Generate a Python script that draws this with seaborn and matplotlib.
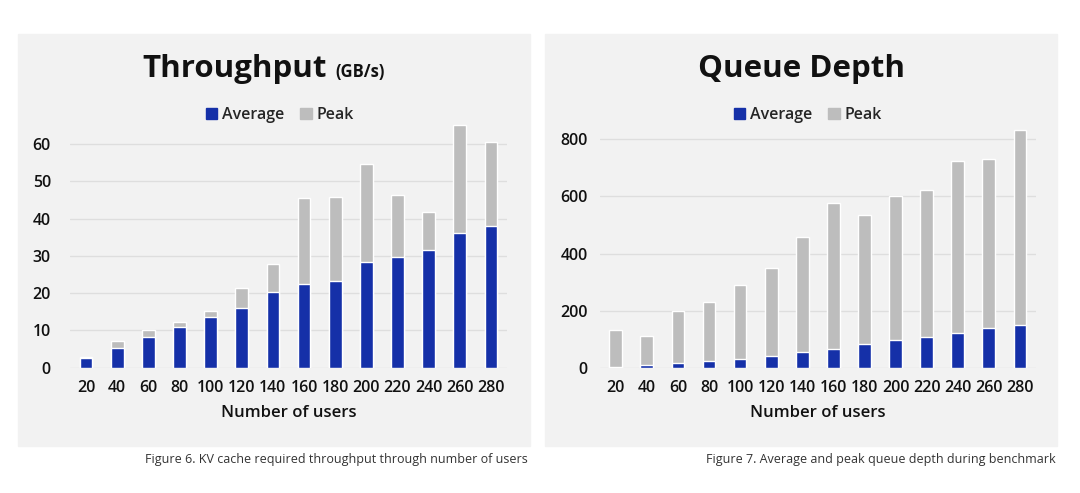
import numpy as np
import pandas as pd
import matplotlib
matplotlib.use("Agg")
import matplotlib.pyplot as plt
import seaborn as sns
from matplotlib.patches import Rectangle, Patch

# Dados
users = [20, 40, 60, 80, 100, 120, 140, 160, 180, 200, 220, 240, 260, 280]
thr_avg = [2.5, 5.4, 8.2, 10.9, 13.7, 16.0, 20.2, 22.4, 23.3, 28.4, 29.8, 31.5, 36.1, 37.9]
thr_peak = [3.0, 7.2, 10.0, 12.2, 15.1, 21.5, 27.9, 45.6, 45.9, 54.7, 46.2, 41.7, 65.0, 60.5]
qd_avg = [3, 8, 17, 23, 31, 41, 54, 67, 82, 96, 107, 123, 138, 150]
qd_peak = [131, 110, 200, 230, 288, 350, 458, 577, 536, 600, 624, 725, 730, 832]

BLUE = "#1530a8"
GRAY = "#bdbdbd"
PANEL = "#f2f2f2"

sns.set_theme(style="white")
plt.rcParams['font.family'] = ['Open Sans', 'DejaVu Sans']

fig = plt.figure(figsize=(10.8, 4.93), dpi=100)
W, H = 1080, 493

def px(x0, y0, x1, y1):
    # retângulo em pixels -> fração da figura
    return [x0 / W, 1 - y1 / H, (x1 - x0) / W, (y1 - y0) / H]

# Fundos dos painéis
for (x0, x1) in [(18, 530), (545, 1057)]:
    fig.patches.append(Rectangle((x0 / W, 1 - 446 / H), (x1 - x0) / W, (446 - 34) / H,
                                 transform=fig.transFigure, color=PANEL, zorder=-5))

def painel(rect, avg, peak, ymax, yticks, ypad):
    ax = fig.add_axes(rect)
    ax.set_facecolor("none")
    df = pd.DataFrame({"users": [str(u) for u in users], "avg": avg, "peak": peak})
    sns.barplot(data=df, x="users", y="peak", color=GRAY, width=0.41, ax=ax,
                saturation=1, zorder=2)
    sns.barplot(data=df, x="users", y="avg", color=BLUE, width=0.41, ax=ax,
                saturation=1, zorder=3)
    ax.set_xlim(-0.5, 13.5)
    ax.set_ylim(0, ymax)
    ax.set_yticks(yticks)
    ax.yaxis.grid(True, color="#dedede", linewidth=1, zorder=0)
    ax.set_axisbelow(True)
    for s in ax.spines.values():
        s.set_visible(False)
    ax.tick_params(axis="both", length=0, labelsize=11.5, colors="#111111")
    ax.tick_params(axis="y", pad=ypad)
    ax.tick_params(axis="x", pad=9)
    for lab in ax.get_xticklabels() + ax.get_yticklabels():
        lab.set_fontweight("semibold")
    ax.set_xlabel("Number of users", fontsize=12, fontweight="semibold", labelpad=6,
                  color="#111111")
    ax.set_ylabel("")
    return ax

ax1 = painel(px(70.4, 121.6, 506.6, 367.7), thr_avg, thr_peak, 66,
             [0, 10, 20, 30, 40, 50, 60], 14)
ax2 = painel(px(600.2, 127.9, 1035.5, 367.7), qd_avg, qd_peak, 840,
             [0, 200, 400, 600, 800], 9)

# Títulos
fig.text(327 / W, 1 - 77 / H, "Throughput", fontsize=22.5, fontweight="bold",
         ha="right", va="baseline", color="#111111")
fig.text(335 / W, 1 - 77 / H, "(GB/s)", fontsize=12, fontweight="bold",
         ha="left", va="baseline", color="#111111")
fig.text(801 / W, 1 - 77 / H, "Queue Depth", fontsize=22.5, fontweight="bold",
         ha="center", va="baseline", color="#111111")

# Legendas
handles = [Patch(color=BLUE, label="Average"), Patch(color=GRAY, label="Peak")]
for cx in [280, 808]:
    fig.legend(handles=handles, loc="center", bbox_to_anchor=(cx / W, 1 - 115 / H),
               ncol=2, frameon=False, handlelength=0.7, handleheight=0.7,
               handletextpad=0.3, columnspacing=1.0,
               prop={"size": 11.5, "weight": "semibold"})

# Legendas das figuras
fig.text(528 / W, 1 - 460 / H, "Figure 6. KV cache required throughput through number of users",
         fontsize=9, ha="right", va="center", color="#333333")
fig.text(1056 / W, 1 - 460 / H, "Figure 7. Average and peak queue depth during benchmark",
         fontsize=9, ha="right", va="center", color="#333333")

fig.savefig("out.png", dpi=100, facecolor="white")
